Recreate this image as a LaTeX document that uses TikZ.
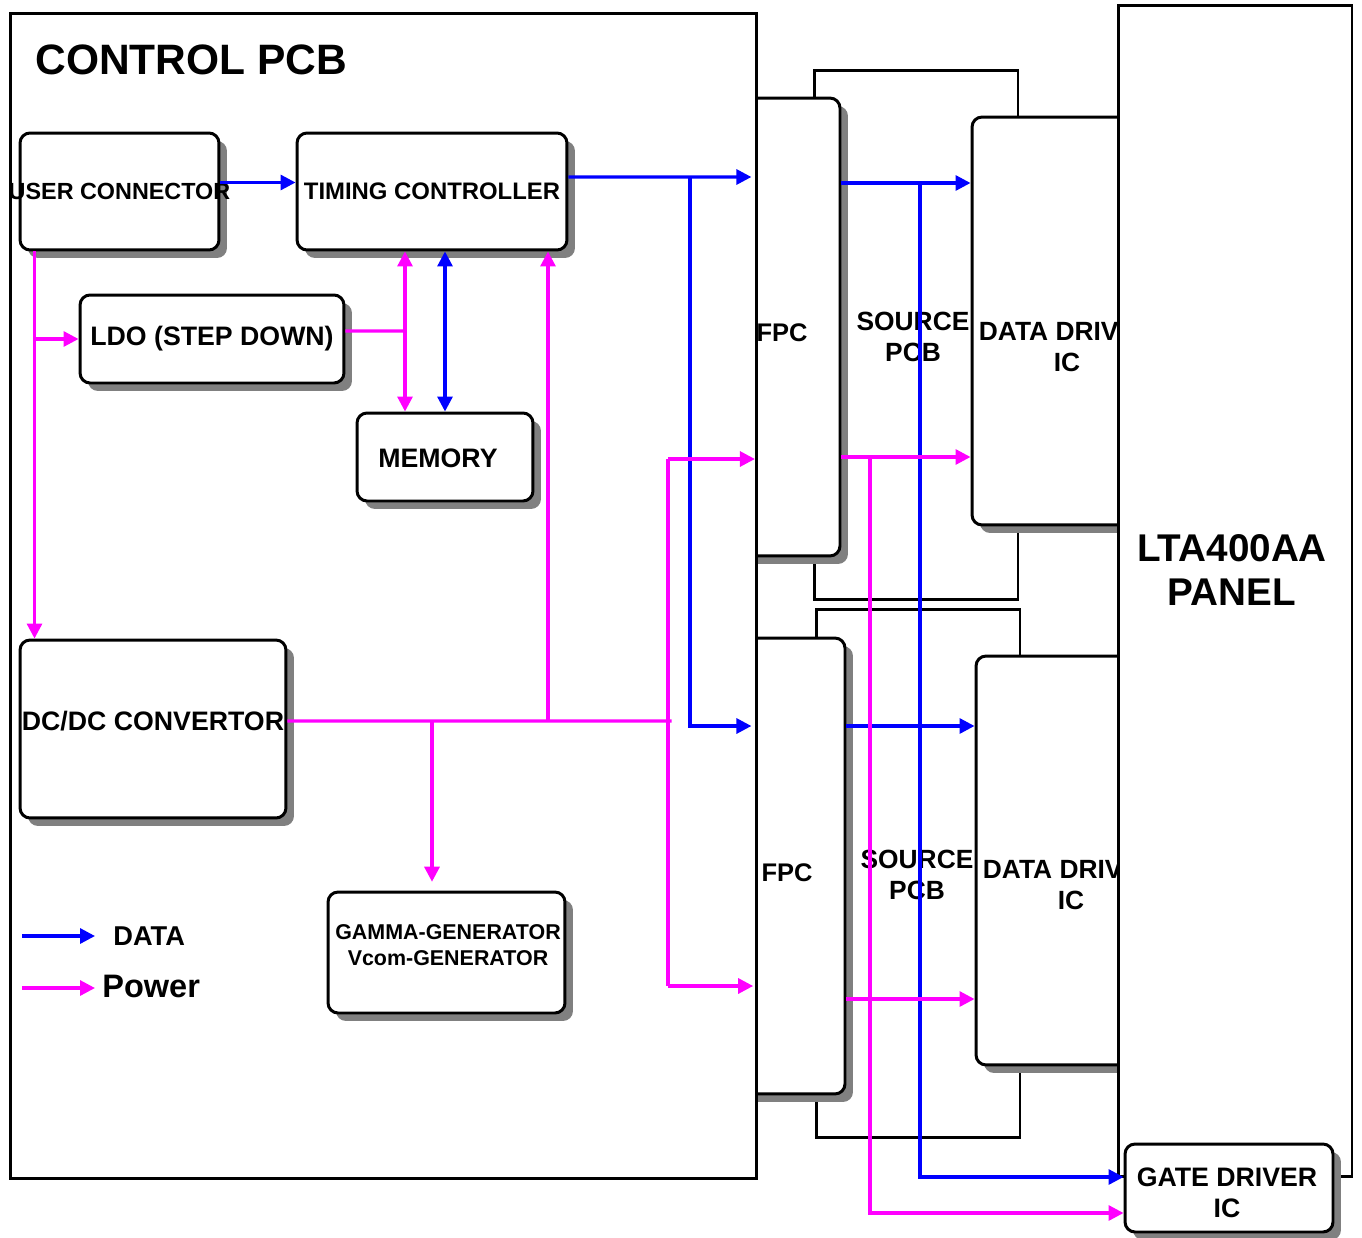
\documentclass[tikz,border=0pt]{standalone}
\usepackage{fontspec}
\setmainfont{Liberation Sans}
\usetikzlibrary{arrows.meta,shadows}
\definecolor{dataBlue}{HTML}{0000FF}
\definecolor{powerMag}{HTML}{FF00FF}
\definecolor{shadowGray}{HTML}{808080}
\newcommand{\pcbfont}[2]{\fontsize{#1}{#2}\selectfont\bfseries}
\tikzset{
  >={Triangle[length=3mm,width=3mm]},
  dataflow/.style={->, draw=dataBlue, line width=1.8pt},
  powerflow/.style={->, draw=powerMag, line width=1.8pt},
  powerbus/.style={draw=powerMag, line width=1.8pt},
  board/.style={draw=black, fill=white, line width=1.7pt, inner sep=0pt},
  blk/.style={draw=black, fill=white, line width=1.7pt, rounded corners=2mm,
              inner sep=0pt, align=center,
              drop shadow={shadow xshift=1.6mm, shadow yshift=-1.6mm,
                           fill=shadowGray, opacity=1}},
  txt/.style={inner sep=0pt, align=center}
}

\begin{document}
\begin{tikzpicture}[x=0.02cm, y=-0.02cm]
\useasboundingbox (0,0) rectangle (1362,1237);

% ------------------------------------------------------------
% SOURCE PCBs, FPCs and data drivers (behind the two big boards)
% ------------------------------------------------------------
\node[board, minimum width=4.08cm, minimum height=10.6cm] (srcA) at (916,335) {};
\node[board, minimum width=4.08cm, minimum height=10.58cm] (srcB) at (918,873.5) {};
\node[txt, font={\pcbfont{15pt}{17.6pt}}] (srcAtxt) at (913,337) {SOURCE\\PCB};
\node[txt, font={\pcbfont{15pt}{17.6pt}}] (srcBtxt) at (917,875) {SOURCE\\PCB};

\node[blk, minimum width=2.16cm, minimum height=9.16cm] (fpcA) at (786,327) {};
\node[blk, minimum width=2.16cm, minimum height=9.12cm] (fpcB) at (791,866) {};
\node[txt, font={\pcbfont{14.5pt}{17pt}}] (fpcAtxt) at (782,333) {FPC};
\node[txt, font={\pcbfont{14.5pt}{17pt}}] (fpcBtxt) at (787,873) {FPC};

\node[blk, minimum width=3.8cm, minimum height=8.16cm] (ddA) at (1067,321) {};
\node[blk, minimum width=3.8cm, minimum height=8.18cm] (ddB) at (1071,860.5) {};
\node[txt, font={\pcbfont{15pt}{18pt}}] (ddAtxt) at (1067,347) {DATA DRIVER\\IC};
\node[txt, font={\pcbfont{15pt}{18pt}}] (ddBtxt) at (1071,885) {DATA DRIVER\\IC};

% ------------------------------------------------------------
% CONTROL PCB
% ------------------------------------------------------------
\node[board, minimum width=14.94cm, minimum height=23.32cm] (ctrl) at (383.5,596) {};
\node[txt, anchor=west, font={\pcbfont{24.2pt}{28pt}}] (ctrlTitle) at (35,60) {CONTROL PCB};

\node[blk, minimum width=3.98cm, minimum height=2.34cm, font={\pcbfont{13.3pt}{15pt}}] (usr) at (119.5,191.5) {\makebox[0pt]{USER CONNECTOR}};
\node[blk, minimum width=5.4cm, minimum height=2.34cm, font={\pcbfont{13.6pt}{16pt}}] (tcon) at (432,191.5) {TIMING CONTROLLER};
\node[blk, minimum width=5.28cm, minimum height=1.76cm, font={\pcbfont{15.2pt}{18pt}}] (ldo) at (212,339) {LDO (STEP DOWN)};
\node[blk, minimum width=3.52cm, minimum height=1.76cm] (mem) at (445,457) {};
\node[txt, font={\pcbfont{15.2pt}{18pt}}] (memTxt) at (438,458) {MEMORY};
\node[blk, minimum width=5.32cm, minimum height=3.56cm] (dcdc) at (153,729) {};
\node[txt, font={\pcbfont{15.2pt}{17pt}}] (dcdcTxt) at (153,721) {DC/DC CONVERTOR};
\node[blk, minimum width=4.74cm, minimum height=2.42cm] (gam) at (446.5,952.5) {};
\node[txt, font={\pcbfont{12.2pt}{14.7pt}}] (gamTxt) at (448,945) {GAMMA-GENERATOR\\Vcom-GENERATOR};

% ------------------------------------------------------------
% PANEL and gate driver
% ------------------------------------------------------------
\node[board, minimum width=4.68cm, minimum height=23.44cm] (panel) at (1235,591) {};
\node[txt, font={\pcbfont{22pt}{25pt}}] (panelTxt) at (1232,570) {LTA400AA\\PANEL};
\node[blk, minimum width=4.16cm, minimum height=1.76cm] (gate) at (1229,1188) {};
\node[txt, font={\pcbfont{15.2pt}{17.6pt}}] (gateTxt) at (1227,1193) {GATE DRIVER\\IC};

% junctions
\coordinate (dA) at (690,177);
\coordinate (dB) at (690,726);
\coordinate (sA) at (920,183);
\coordinate (sB) at (870,457);
\coordinate (sC) at (900,999);
\coordinate (pA) at ([xshift=0.32cm]usr.south west);
\coordinate (pL) at (405,331);
\coordinate (pB) at (668,721);
\coordinate (pC) at (548,721);
\coordinate (pD) at (432,721);
\coordinate (pE) at (668,459);
\coordinate (pF) at (668,986);

% data
\draw[dataflow] ([yshift=0.18cm]usr.east) -- ([yshift=0.18cm]tcon.west);
\draw[dataflow, shorten >=4pt] ([yshift=0.29cm]tcon.east) -- (ctrl.east |- dA);
\draw[dataflow, shorten >=4pt] (dA) |- (ctrl.east |- dB);
\draw[dataflow, <->] (mem.north |- tcon.south) -- (mem.north);
\draw[dataflow] (fpcA.east |- sA) -- (ddA.west |- sA);
\draw[dataflow] (sA) |- ([yshift=0.22cm]gate.west);
\draw[dataflow] (fpcB.east |- dB) -- (ddB.west |- dB);

% power
\draw[powerflow] (pA) -- (pA |- dcdc.north);
\draw[powerflow] (pA |- ldo.west) -- (ldo.west);
\draw[powerbus] ([yshift=0.16cm]ldo.east) -- (pL);
\draw[powerflow, <->] (pL |- tcon.south) -- (pL |- mem.north);
\draw[powerbus] ([yshift=0.16cm]dcdc.east) -- ([xshift=2pt]pB);
\draw[powerflow] (pC) -- (pC |- tcon.south);
\draw[powerflow, shorten >=5pt] (pD) -- (pD |- gam.north);
\draw[powerbus] (pE) -- (pF);
\draw[powerflow, shorten >=2pt] (pE) -- (ctrl.east |- pE);
\draw[powerflow, shorten >=3pt] (pF) -- (ctrl.east |- pF);
\draw[powerflow] (fpcA.east |- sB) -- (ddA.west |- sB);
\draw[powerflow] (sB) |- ([yshift=-0.5cm]gate.west);
\draw[powerflow] (fpcB.east |- sC) -- (ddB.west |- sC);

% legend
\node[txt, anchor=west, font={\pcbfont{15.5pt}{17pt}}] (legDtxt) at (113,936) {DATA};
\node[txt, anchor=west, font={\pcbfont{18.5pt}{21pt}}] (legPtxt) at (102,986) {Power};
\draw[dataflow] ([xshift=-1.82cm]legDtxt.west) -- ([xshift=-0.36cm]legDtxt.west);
\draw[powerflow] ([xshift=-1.6cm,yshift=-0.04cm]legPtxt.west) -- ([xshift=-0.14cm,yshift=-0.04cm]legPtxt.west);

\end{tikzpicture}
\end{document}
